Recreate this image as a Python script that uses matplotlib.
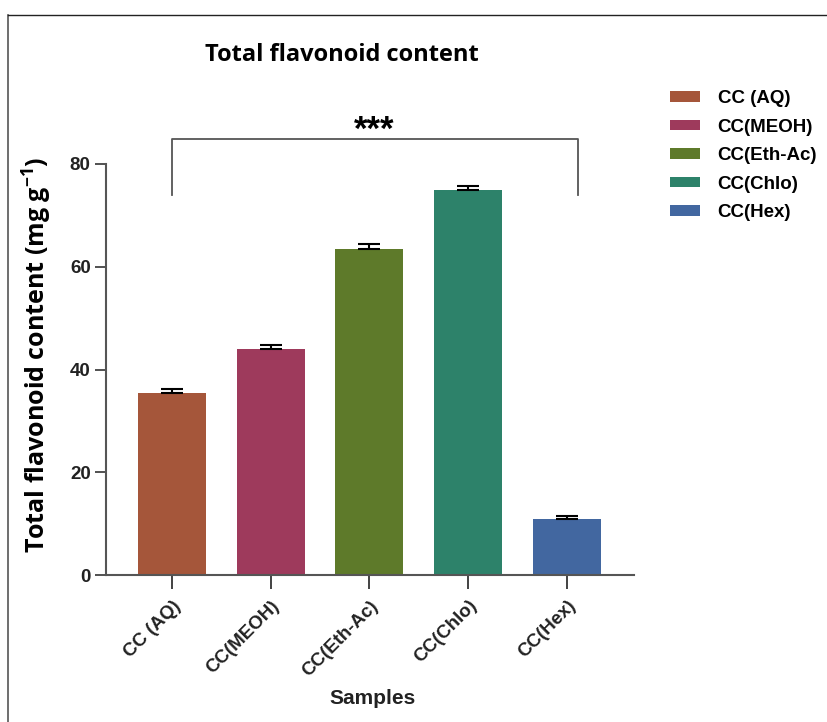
import matplotlib
matplotlib.use("Agg")
import matplotlib.pyplot as plt
from matplotlib.patches import Patch
from matplotlib.lines import Line2D

samples = ["CC (AQ)", "CC(MEOH)", "CC(Eth-Ac)", "CC(Chlo)", "CC(Hex)"]
flavonoid = [35.4, 44.0, 63.5, 74.9, 10.9]
sem = [0.8, 0.8, 0.9, 0.8, 0.6]
colors = ["#A5563A", "#9E3A5C", "#5E7A2A", "#2D826A", "#4267A0"]
yticks = [0, 20, 40, 60, 80]

plt.rcParams["mathtext.fontset"] = "custom"
plt.rcParams["mathtext.rm"] = "Open Sans:bold"
plt.rcParams["mathtext.bf"] = "Open Sans:bold"
plt.rcParams["mathtext.it"] = "Open Sans:bold"

W, H = 827, 722
fig = plt.figure(figsize=(W / 100, H / 100), dpi=100)
ax = fig.add_axes([106 / W, 1 - 575 / H, (634 - 106) / W, (575 - 164) / H])

x = list(range(len(samples)))
ax.bar(x, flavonoid, width=0.69, color=colors, zorder=2)
ax.errorbar(x, flavonoid, yerr=[[0] * len(sem), sem], fmt="none",
            ecolor="black", elinewidth=1.5, capsize=8, capthick=1.5, zorder=3)

ax.set_xlim(-0.668, 4.68)
ax.set_ylim(0, 80)
ax.set_yticks(yticks)
ax.set_xticks(x)

tick_font = dict(family="Liberation Sans", weight="bold", size=13.5)
ax.set_yticklabels([str(v) for v in yticks], fontdict=tick_font, color="#222222")
ax.set_xticklabels(samples, fontdict=tick_font, rotation=45, ha="right",
                   rotation_mode="anchor", color="#222222")

for side in ("top", "right"):
    ax.spines[side].set_visible(False)
for side in ("left", "bottom"):
    ax.spines[side].set_color("#555555")
    ax.spines[side].set_linewidth(1.5)
ax.tick_params(axis="y", length=8, width=1.2, color="#333333", pad=3)
ax.tick_params(axis="x", length=10, width=1.2, color="#222222", pad=6)

ax.set_ylabel("Total flavonoid content (mg g$^{-1}$)",
              family="Open Sans", weight="bold", size=18)
ax.yaxis.set_label_coords((54 - 106) / 528, (575 - 355) / 411)

fig.text(373 / W, 1 - 698 / H, "Samples", ha="center", va="center",
         family="Liberation Sans", weight="bold", size=15, color="#222222")

# Significance bracket across all extracts
ax.plot([0, 0, 4.11, 4.11], [74.0, 84.9, 84.9, 74.0], color="#555555",
        lw=1.3, clip_on=False, zorder=1)
ax.text(2.05, 86.6, "***", ha="center", va="center", family="Liberation Sans",
        weight="bold", size=25, clip_on=False)

fig.text(342 / W, 1 - 55 / H, "Total flavonoid content", ha="center", va="center",
         family="Open Sans", weight="bold", size=17)

handles = [Patch(facecolor=c, edgecolor="none") for c in colors]
leg = fig.legend(handles, samples, loc="upper left",
                 bbox_to_anchor=(653 / W, 1 - 73 / H), frameon=False,
                 prop=dict(family="Liberation Sans", weight="bold", size=13.5),
                 handlelength=1.6, handleheight=0.5, handletextpad=0.95,
                 labelspacing=0.62)

# Outer frame lines
fig.add_artist(Line2D([8 / W, 8 / W], [0, 1 - 15 / H], transform=fig.transFigure,
                      color="#555555", lw=1.2))
fig.add_artist(Line2D([8 / W, 1], [1 - 15 / H, 1 - 15 / H], transform=fig.transFigure,
                      color="#222222", lw=1.0))

fig.savefig("out.png", dpi=100)
